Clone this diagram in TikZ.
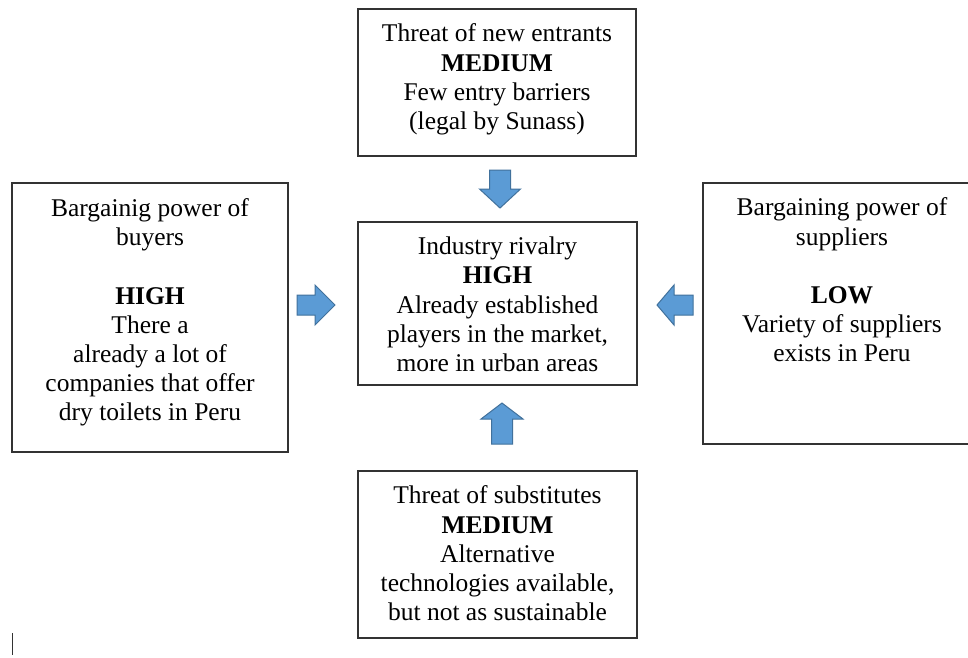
\documentclass[tikz,border=0pt]{standalone}
\usepackage{fontspec}
\setmainfont{Liberation Serif}
\definecolor{arrowfill}{HTML}{5B9BD5}
\definecolor{arrowedge}{HTML}{41719C}
\definecolor{boxline}{HTML}{333333}
\begin{document}
\begin{tikzpicture}[x=1pt,y=-1pt,
  box/.style={draw=boxline, line width=1.1pt, fill=white, inner sep=0pt},
  txt/.style={anchor=north, align=center, inner sep=0pt, font=\fontsize{25.5pt}{29.2pt}\selectfont},
  barrow/.style={fill=arrowfill, draw=arrowedge, line width=1pt, line join=miter}]
\path[use as bounding box] (0,0) rectangle (968,657);
\clip (0,0) rectangle (968,657);
\fill[white] (0,0) rectangle (968,657);

% boxes
\node[box, minimum width=278pt, minimum height=147pt] (topbox) at (497,82.5) {};
\node[box, minimum width=276pt, minimum height=269pt] (leftbox) at (150,317.5) {};
\node[box, minimum width=279pt, minimum height=163pt] (centerbox) at (497.5,303.5) {};
\node[box, minimum width=278pt, minimum height=261pt] (rightbox) at (842,313.5) {};
\node[box, minimum width=279pt, minimum height=167pt] (bottombox) at (497.5,554.5) {};

% texts
\node[txt] (toptext) at ([yshift=-15.3pt]topbox.north)
  {Threat of new entrants\\ \textbf{MEDIUM}\\ Few entry barriers\\ (legal by Sunass)};
\node[txt] (lefttext) at ([yshift=-15.8pt]leftbox.north)
  {Bargainig power of\\ buyers\\[29.2pt] \textbf{HIGH}\\ There a\\ already a lot of\\ companies that offer\\ dry toilets in Peru};
\node[txt] (centertext) at ([yshift=-15.3pt]centerbox.north)
  {Industry rivalry\\ \textbf{HIGH}\\ Already established\\ players in the market,\\ more in urban areas};
\node[txt] (righttext) at ([yshift=-15.3pt]rightbox.north)
  {Bargaining power of\\ suppliers\\[29.2pt] \textbf{LOW}\\ Variety of suppliers\\ exists in Peru};
\node[txt] (bottomtext) at ([yshift=-15.3pt]bottombox.north)
  {Threat of substitutes\\ \textbf{MEDIUM}\\ Alternative\\ technologies available,\\ but not as sustainable};

% block arrows
\draw[barrow] (489.5,170) -- (510.5,170) -- (510.5,189) -- (520.5,189) -- (500,208) -- (479.5,189) -- (489.5,189) -- cycle;
\draw[barrow] (491.5,444) -- (512.5,444) -- (512.5,419) -- (523,419) -- (502,403) -- (481,419) -- (491.5,419) -- cycle;
\draw[barrow] (297,295) -- (315,295) -- (315,285) -- (335,305) -- (315,325) -- (315,315) -- (297,315) -- cycle;
\draw[barrow] (693,295) -- (674,295) -- (674,285) -- (657,305) -- (674,325) -- (674,315) -- (693,315) -- cycle;

% cursor mark
\draw[line width=1pt, boxline] (12,633) -- (12,655);
\end{tikzpicture}
\end{document}
